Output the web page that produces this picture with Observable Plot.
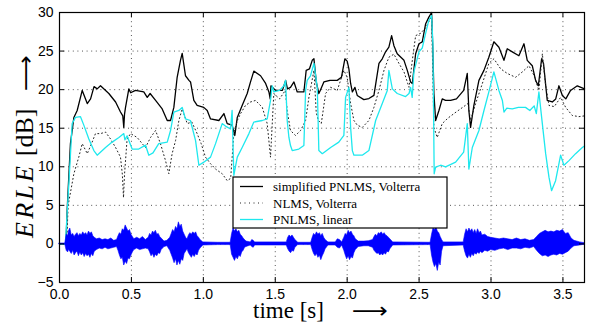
<!DOCTYPE html>
<html><head><meta charset="utf-8">
<script src="https://cdn.jsdelivr.net/npm/d3@7"></script>
<script src="https://cdn.jsdelivr.net/npm/@observablehq/plot@0.6"></script>
<style>body{margin:0;background:#fff}</style>
</head><body><div id="c"></div>
<script>
const xTicks=[0,0.5,1,1.5,2,2.5,3,3.5];
const yTicks=[-5,0,5,10,15,20,25,30];
const seriesNames=["simplified PNLMS, Volterra","NLMS, Volterra","PNLMS, linear"];
const xLabel="time [s]";
const yLabelItalic="ERLE";
const yLabelRest=" [dB]";

// simplified PNLMS, Volterra (black solid)
const blackT=[0,0.045,0.053,0.076,0.1,0.123,0.158,0.193,0.216,0.24,0.262,0.285,0.343,0.39,0.424,0.44,0.447,0.452,0.459,0.482,0.495,0.528,0.586,0.61,0.63,0.668,0.714,0.749,0.772,0.795,0.818,0.841,0.853,0.876,0.9,0.911,0.934,0.957,1.003,1.027,1.05,1.108,1.143,1.166,1.2,1.219,1.236,1.27,1.305,1.328,1.351,1.398,1.433,1.456,1.465,1.47,1.502,1.55,1.572,1.585,1.606,1.63,1.653,1.699,1.715,1.738,1.757,1.769,1.785,1.803,1.815,1.838,1.88,1.931,1.96,1.984,2.0,2.012,2.024,2.036,2.054,2.07,2.116,2.151,2.186,2.221,2.244,2.267,2.29,2.309,2.325,2.348,2.395,2.418,2.441,2.453,2.476,2.499,2.522,2.545,2.568,2.587,2.596,2.603,2.615,2.638,2.661,2.684,2.719,2.76,2.81,2.835,2.846,2.858,2.881,2.916,2.951,2.985,3.02,3.055,3.09,3.113,3.148,3.194,3.229,3.252,3.287,3.31,3.329,3.352,3.365,3.391,3.426,3.45,3.472,3.496,3.52,3.553,3.6,3.65];
const blackV=[0,0,4.3,13,16.4,17.3,19.9,18.2,18.8,20.4,20.1,20.5,19.5,18.4,17.1,16.6,15.1,16.8,17.7,20.1,19.6,19.9,19.7,19.0,19.5,18.6,17.5,16.0,16.0,17.7,21.6,23.8,24.7,21.8,21.2,21.0,18.6,17.95,17.7,17.3,16.2,16.0,16.9,15.6,15.4,14.06,16.4,17.95,19.5,21.0,22.4,21.8,20.8,19.7,18.8,20.5,19.9,19.9,21.2,20.1,20.3,21.0,19.7,19.7,22.5,22.7,23.8,24.0,21.0,19.5,20.0,21.0,21.2,21.2,21.6,24.0,23.7,22.7,20.8,19.7,20.3,19.25,18.7,18.85,19.25,23.4,24.0,24.9,25.5,27.0,25.7,24.65,23.8,22.5,21.0,20.8,24.65,25.95,26.2,28.5,29.4,30,25,19.5,16.0,17.3,18.8,18.6,18.6,18.8,19.9,22.1,17.3,15.1,17.95,21.2,22.5,24.2,26.2,25.5,23.8,25.3,24.9,24.4,25.95,23.8,23.1,21.2,20.5,24.0,23.4,18.6,18.4,18.8,20.5,19.25,18.8,19.9,20.5,20.1];

// NLMS, Volterra (black dotted)
const dotT=[0,0.05,0.06,0.1,0.134,0.158,0.193,0.227,0.25,0.285,0.32,0.355,0.39,0.424,0.437,0.445,0.452,0.47,0.494,0.54,0.575,0.598,0.633,0.668,0.702,0.737,0.76,0.783,0.807,0.83,0.853,0.888,0.92,0.957,0.985,1.015,1.05,1.085,1.131,1.166,1.19,1.212,1.236,1.259,1.293,1.328,1.363,1.41,1.444,1.467,1.49,1.53,1.57,1.583,1.606,1.641,1.676,1.711,1.734,1.769,1.785,1.8,1.82,1.85,1.885,1.931,1.977,2.0,2.024,2.047,2.07,2.105,2.151,2.186,2.221,2.256,2.29,2.325,2.36,2.395,2.43,2.453,2.476,2.51,2.545,2.587,2.603,2.626,2.661,2.7,2.75,2.81,2.84,2.858,2.893,2.94,2.985,3.02,3.067,3.113,3.171,3.218,3.264,3.3,3.333,3.357,3.38,3.403,3.44,3.484,3.519,3.565,3.611,3.65];
const dotV=[0,0,5,9.1,11.25,13.0,11.7,13.2,14.3,14.3,14.5,13.6,12.5,11.25,9,6.0,9,13.6,14.3,13.8,13.0,12.5,13.8,14.7,13.0,10.8,9.1,11.7,13.4,16.0,17.5,15.6,15.8,14.3,13.0,11.25,10.4,9.7,9.1,8.2,8.5,14.3,16.0,16.9,17.95,18.4,18.6,17.7,15.6,11.25,19.5,18.8,19.9,17.3,14.7,14.06,14.7,16.0,19.0,22.5,17,16.0,15.6,19.5,20.3,19.9,22.5,21.6,18.2,16.0,15.4,15.1,16.0,17.7,19.9,22.5,24.2,24.6,23.4,22.3,20.3,23.8,27.0,27.3,28.0,29.5,15.1,13.8,15.6,16.3,17.0,17.8,18.2,16.0,18.2,20.8,23.4,24.0,22.7,22.1,21.6,22.3,23.1,21.8,19.9,24.65,20.5,17.95,17.8,19.0,17.7,16.65,16.5,16.6];

// PNLMS, linear (cyan)
const cyanT=[0,0.042,0.05,0.065,0.088,0.111,0.146,0.169,0.204,0.239,0.262,0.32,0.366,0.413,0.447,0.455,0.47,0.505,0.551,0.598,0.621,0.65,0.69,0.749,0.772,0.795,0.83,0.853,0.876,0.91,0.946,0.969,1.003,1.05,1.085,1.131,1.16,1.189,1.2,1.212,1.236,1.27,1.317,1.351,1.41,1.444,1.467,1.479,1.49,1.53,1.56,1.572,1.583,1.595,1.606,1.618,1.664,1.699,1.711,1.722,1.745,1.769,1.792,1.798,1.803,1.827,1.885,1.942,1.977,1.989,2.012,2.024,2.036,2.047,2.105,2.151,2.198,2.244,2.279,2.29,2.314,2.348,2.406,2.43,2.441,2.452,2.464,2.499,2.522,2.545,2.568,2.587,2.596,2.605,2.615,2.65,2.684,2.754,2.81,2.835,2.846,2.87,2.916,2.951,2.985,3.02,3.055,3.079,3.09,3.11,3.148,3.19,3.24,3.27,3.3,3.315,3.333,3.352,3.38,3.403,3.421,3.449,3.484,3.507,3.542,3.588,3.635,3.65];
const cyanV=[0,0,3,7.8,15.6,16.4,16.5,15.4,13.6,12.1,11.5,12.5,13.2,13.8,14.3,13.5,14.0,12.3,12.3,12.8,11.5,11.8,13.0,13.2,14.7,17.1,17.3,17.7,16.2,16.0,13.4,10.2,10.6,11.25,13.0,15.6,15.2,14.9,17.3,8.9,11.25,12.5,14.3,15.8,16.0,16.2,18.6,20.5,19.7,19.9,20.5,21.2,16.0,13.8,12.75,12.1,12.3,12.75,19.9,21.2,21.8,23.4,20.3,16,12.1,11.7,12.5,13.2,14.06,19.0,20.3,15.1,12.1,11.5,11.5,12.1,16.0,18.2,19.9,22.5,20.1,19.5,19.1,19.5,20.3,19.0,22.3,24.9,25.4,27.25,29.0,29.6,25.95,9.1,9.95,10.2,10.0,10.6,11.9,15.6,9.7,12.5,14.7,17.3,19.7,22.3,19.9,18.6,17.1,17.6,17.5,17.7,17.7,17.3,17.9,16.9,19.7,16.4,11.7,8.65,6.9,8.2,11.5,10.2,10.8,11.7,12.5,12.7];

// speech signal (blue): upper / lower envelope
const sigT=[0,0.04,0.045,0.05,0.06,0.065,0.075,0.085,0.095,0.105,0.115,0.125,0.135,0.145,0.155,0.165,0.175,0.185,0.195,0.205,0.215,0.225,0.235,0.245,0.26,0.28,0.30,0.32,0.34,0.36,0.38,0.40,0.41,0.42,0.43,0.44,0.45,0.46,0.47,0.48,0.49,0.50,0.51,0.52,0.54,0.56,0.58,0.60,0.62,0.63,0.64,0.65,0.66,0.67,0.68,0.69,0.70,0.71,0.73,0.75,0.77,0.78,0.79,0.80,0.81,0.82,0.83,0.84,0.85,0.86,0.87,0.88,0.89,0.90,0.91,0.92,0.93,0.94,0.95,0.96,0.97,0.98,1.0,1.1,1.19,1.2,1.21,1.22,1.23,1.24,1.25,1.26,1.27,1.28,1.29,1.3,1.33,1.34,1.35,1.36,1.58,1.59,1.60,1.61,1.62,1.63,1.64,1.66,1.75,1.76,1.77,1.78,1.79,1.80,1.81,1.82,1.83,1.84,1.85,1.87,1.92,1.935,1.95,1.965,1.98,1.99,2.00,2.01,2.02,2.03,2.04,2.05,2.06,2.08,2.12,2.15,2.18,2.19,2.20,2.21,2.22,2.23,2.24,2.25,2.26,2.27,2.28,2.29,2.30,2.32,2.58,2.59,2.60,2.61,2.62,2.63,2.64,2.65,2.66,2.67,2.81,2.82,2.83,2.84,2.85,2.86,2.87,2.88,2.89,2.90,2.91,2.92,2.93,2.94,2.96,2.98,3.00,3.03,3.06,3.09,3.12,3.15,3.18,3.21,3.24,3.27,3.30,3.32,3.34,3.36,3.38,3.40,3.42,3.44,3.46,3.48,3.50,3.52,3.54,3.56,3.58,3.62,3.65];
const sigHi=[0.05,0.05,0.6,1.2,1.0,1.6,2.0,1.1,1.3,0.9,1.2,1.4,1.0,1.3,1.1,1.5,1.2,1.4,1.1,1.6,1.3,1.5,1.0,0.8,0.6,0.7,0.5,0.6,0.5,0.7,0.4,0.5,1.0,1.4,1.2,1.9,1.7,2.4,2.0,1.6,1.8,1.2,0.9,0.6,0.8,0.6,0.9,0.5,0.8,1.3,1.1,1.6,1.4,1.7,1.2,1.3,0.9,0.7,0.3,0.4,0.8,1.3,1.8,1.5,2.2,1.9,2.8,2.2,2.5,1.6,1.2,0.8,0.6,1.1,1.4,1.2,1.5,1.3,1.5,1.0,0.8,0.5,0.2,0.15,0.15,1.3,2.0,1.6,1.9,1.5,1.7,1.2,1.0,0.7,0.5,0.3,0.2,0.5,0.4,0.2,0.2,0.8,1.1,0.9,1.1,0.8,0.5,0.15,0.15,0.8,1.3,1.1,1.5,1.2,1.4,1.0,1.3,0.8,0.5,0.2,0.2,0.6,0.5,0.2,0.8,1.3,1.1,1.7,1.4,1.6,1.2,1.0,0.6,0.3,0.3,0.35,0.5,0.9,1.2,1.0,1.4,1.3,1.5,1.2,1.4,1.1,1.0,0.8,0.6,0.2,0.15,1.2,2.0,1.8,2.2,1.6,1.4,0.9,0.5,0.2,0.2,1.2,1.9,1.5,2.0,1.6,1.9,1.4,1.8,1.3,1.9,1.4,1.6,1.1,1.2,0.9,0.8,0.7,0.6,0.7,0.6,0.5,0.7,0.5,0.6,0.4,0.5,0.9,1.3,1.5,1.7,1.5,1.6,1.5,1.7,1.6,1.8,1.3,1.4,0.7,0.4,0.2,0.1];
const sigLo=[-0.05,-0.05,-0.5,-0.9,-1.1,-0.8,-1.0,-1.3,-0.9,-1.5,-1.2,-1.0,-1.6,-1.1,-1.5,-1.2,-1.7,-1.3,-1.6,-1.4,-1.8,-1.3,-1.6,-1.0,-0.8,-0.6,-0.7,-0.5,-0.7,-0.6,-0.5,-0.4,-0.9,-1.5,-2.0,-1.8,-2.8,-2.3,-2.6,-1.9,-2.0,-1.5,-1.1,-0.8,-0.6,-0.8,-0.7,-0.6,-0.7,-1.1,-1.6,-1.3,-1.8,-1.4,-1.6,-1.2,-1.3,-0.8,-0.4,-0.3,-0.9,-1.4,-1.9,-2.5,-2.0,-2.8,-2.2,-2.7,-2.0,-2.2,-1.3,-1.0,-0.7,-1.2,-1.5,-1.8,-1.4,-1.7,-1.3,-1.5,-0.9,-0.6,-0.2,-0.15,-0.15,-1.4,-1.8,-2.2,-1.7,-2.0,-1.5,-1.7,-1.1,-0.9,-0.5,-0.4,-0.2,-0.4,-0.5,-0.2,-0.2,-0.7,-1.0,-1.2,-0.9,-1.0,-0.5,-0.15,-0.15,-0.8,-1.3,-1.6,-1.3,-1.8,-1.5,-2.1,-1.6,-1.2,-0.7,-0.2,-0.2,-0.5,-0.6,-0.2,-0.9,-1.5,-2.0,-1.6,-2.1,-1.7,-1.9,-1.2,-0.8,-0.4,-0.3,-0.3,-0.5,-0.9,-1.1,-1.3,-1.2,-1.5,-1.3,-1.5,-1.2,-1.4,-1.0,-1.1,-0.7,-0.2,-0.15,-1.5,-2.4,-3.0,-2.6,-3.5,-2.4,-2.8,-1.0,-0.3,-0.2,-1.0,-1.6,-1.9,-1.4,-1.8,-1.3,-1.6,-1.2,-1.4,-1.1,-1.3,-1.0,-1.2,-0.9,-1.0,-0.8,-0.9,-0.7,-0.6,-0.8,-0.6,-0.6,-0.7,-0.5,-0.6,-0.4,-0.9,-1.3,-1.6,-1.5,-1.7,-1.5,-1.4,-1.5,-1.3,-1.4,-1.2,-1.0,-0.6,-0.3,-0.2,-0.1];

const black=blackT.map((t,i)=>({t,v:blackV[i]}));
const dotted=dotT.map((t,i)=>({t,v:dotV[i]}));
const cyan=cyanT.map((t,i)=>({t,v:cyanV[i]}));
const sig=sigT.map((t,i)=>({t,hi:sigHi[i],lo:sigLo[i]}));

const CYAN="#1ee8ee", BLUE="#0000ff";
const W=589,H=322,mL=59,mR=5,mT=12,mB=40;
const fw=W-mL-mR, fh=H-mT-mB, tk=5;

const plot=Plot.plot({
  width:W,height:H,marginLeft:mL,marginRight:mR,marginTop:mT,marginBottom:mB,
  style:{fontFamily:"'Liberation Sans',Arial,Helvetica,sans-serif",fontSize:"14px",background:"#fff",color:"#000",overflow:"visible"},
  x:{domain:[0,3.65],ticks:xTicks,tickSize:0,tickPadding:7,label:null},
  y:{domain:[-5,30],ticks:yTicks,tickSize:0,tickPadding:6,label:null},
  marks:[
    Plot.ruleX(xTicks,{stroke:"#555",strokeWidth:1,strokeDasharray:"1,3.6"}),
    Plot.ruleY(yTicks,{stroke:"#555",strokeWidth:1,strokeDasharray:"1,3.6"}),
    Plot.line(black,{x:"t",y:"v",stroke:"#000",strokeWidth:1.3}),
    Plot.line(dotted,{x:"t",y:"v",stroke:"#222",strokeWidth:1,strokeDasharray:"1,2.8"}),
    Plot.line(cyan,{x:"t",y:"v",stroke:CYAN,strokeWidth:1.3}),
    Plot.areaY(sig,{x:"t",y1:"lo",y2:"hi",fill:BLUE,stroke:BLUE,strokeWidth:0.6}),
    Plot.ruleX(xTicks,{stroke:"#000",insetTop:fh-tk}),
    Plot.ruleX(xTicks,{stroke:"#000",insetBottom:fh-tk}),
    Plot.ruleY(yTicks,{stroke:"#000",insetRight:fw-tk}),
    Plot.ruleY(yTicks,{stroke:"#000",insetLeft:fw-tk}),
    Plot.frame({stroke:"#000",strokeWidth:1.2})
  ]
});
document.getElementById("c").appendChild(plot);

const svg=d3.select(plot);
const serif="'Liberation Serif','Times New Roman',Times,serif";
// legend
const lg=svg.append("g").attr("text-anchor","start");
const lx0=233, ly0=177, lw=214, lh=51;
lg.append("rect").attr("x",lx0).attr("y",ly0).attr("width",lw).attr("height",lh)
  .attr("fill","#fff").attr("stroke","#000").attr("stroke-width",1.2);
const lstyles=[{s:"#000",d:null,w:1.3},{s:"#222",d:"1,3.5",w:1},{s:CYAN,d:null,w:1.3}];
seriesNames.forEach((name,i)=>{
  const y=ly0+9.5+i*16.5;
  const ln=lg.append("line").attr("x1",lx0+7).attr("x2",lx0+30).attr("y1",y).attr("y2",y)
    .attr("stroke",lstyles[i].s).attr("stroke-width",lstyles[i].w);
  if(lstyles[i].d) ln.attr("stroke-dasharray",lstyles[i].d);
  lg.append("text").attr("x",lx0+40).attr("y",y+4.5).attr("font-family",serif)
    .attr("font-size",13).attr("fill","#000").text(name);
});
// x label
const g2=svg.append("g").attr("text-anchor","start");
g2.append("text").attr("x",253).attr("y",317.5).attr("font-family",serif).attr("font-size",23)
  .attr("fill","#000").text(xLabel);
g2.append("text").attr("x",352).attr("y",318).attr("font-family","'DejaVu Sans',sans-serif").attr("font-size",22)
  .attr("fill","#000").attr("textLength",36).attr("lengthAdjust","spacingAndGlyphs").text("\u27F6");
// y label
const yl=g2.append("text").attr("transform","translate(33,238) rotate(-90)")
  .attr("font-family",serif).attr("font-size",26).attr("fill","#000");
yl.append("tspan").attr("font-style","italic").attr("textLength",72).attr("lengthAdjust","spacing").text(yLabelItalic);
yl.append("tspan").text(yLabelRest);
g2.append("text").attr("transform","translate(33,91) rotate(-90)")
  .attr("font-family","'DejaVu Sans',sans-serif").attr("font-size",22).attr("fill","#000")
  .attr("textLength",36).attr("lengthAdjust","spacingAndGlyphs").text("\u27F6");
</script>
</body></html>
